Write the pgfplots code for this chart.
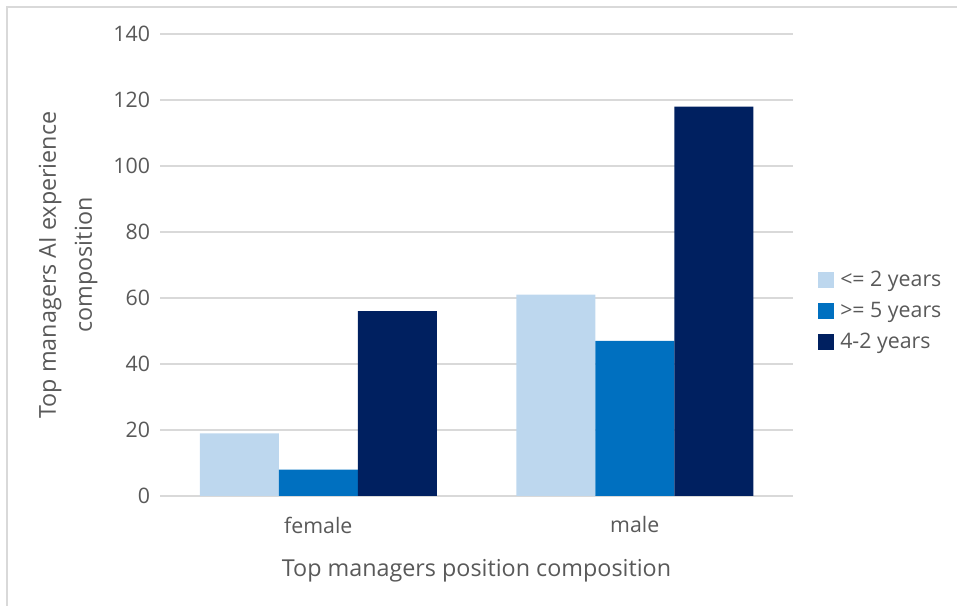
\documentclass[border=0pt]{standalone}
\usepackage{pgfplots}
\pgfplotsset{compat=1.18}
\usepackage{fontspec}
\setmainfont{Open Sans}
\definecolor{c1}{HTML}{BDD7EE}
\definecolor{c2}{HTML}{0070C0}
\definecolor{c3}{HTML}{002060}
\definecolor{txt}{HTML}{595959}
\definecolor{grd}{HTML}{D9D9D9}
\begin{document}
\begin{tikzpicture}
\path[use as bounding box] (0pt,0pt) rectangle (717.75pt,454.5pt);
\draw[grd, line width=1.2pt] (5.25pt,0pt) -- (5.25pt,449.25pt) -- (717.75pt,449.25pt);
\begin{axis}[
  at={(120pt,82.5pt)}, anchor=south west,
  scale only axis, width=474.75pt, height=346.5pt,
  xmin=-0.5, xmax=1.5, ymin=0, ymax=140,
  ytick={0,20,...,140},
  xtick={0,1}, xticklabels={female,male},
  ybar=0pt, bar width=59.25pt,
  axis line style={draw=none},
  major tick length=0pt,
  ymajorgrids, grid style={grd, line width=1pt},
  tick label style={font=\fontsize{16}{19}\selectfont, text=txt},
  /pgf/number format/assume math mode=true,
  yticklabel style={xshift=-4pt},
  xticklabel style={yshift=-12pt},
  xlabel={Top managers position composition},
  ylabel={Top managers AI experience\\composition},
  label style={font=\fontsize{17.5}{27}\selectfont, text=txt},
  xlabel style={at={(axis description cs:0.5,-0.1625)}, anchor=center},
  ylabel style={at={(axis description cs:-0.1453,0.5)}, anchor=center, align=center},
  legend style={draw=none, fill=none, at={(axis description cs:1.0395,0.4935)}, anchor=north west,
    font=\fontsize{16}{19}\selectfont, text=txt, row sep=6.25pt, inner sep=0pt,
    /tikz/every even column/.append style={column sep=0pt},
    /tikz/every odd column/.append style={column sep=2.5pt}},
  legend cell align=left,
  legend image code/.code={\fill[#1] (0pt,-6pt) rectangle (12pt,6pt);},
]
\addplot[fill=c1, draw=none] coordinates {(0,19) (1,61)};
\addplot[fill=c2, draw=none] coordinates {(0,8) (1,47)};
\addplot[fill=c3, draw=none] coordinates {(0,56) (1,118)};
\legend{{<= 2 years},{>= 5 years},{4-2 years}}
\end{axis}
\end{tikzpicture}
\end{document}
